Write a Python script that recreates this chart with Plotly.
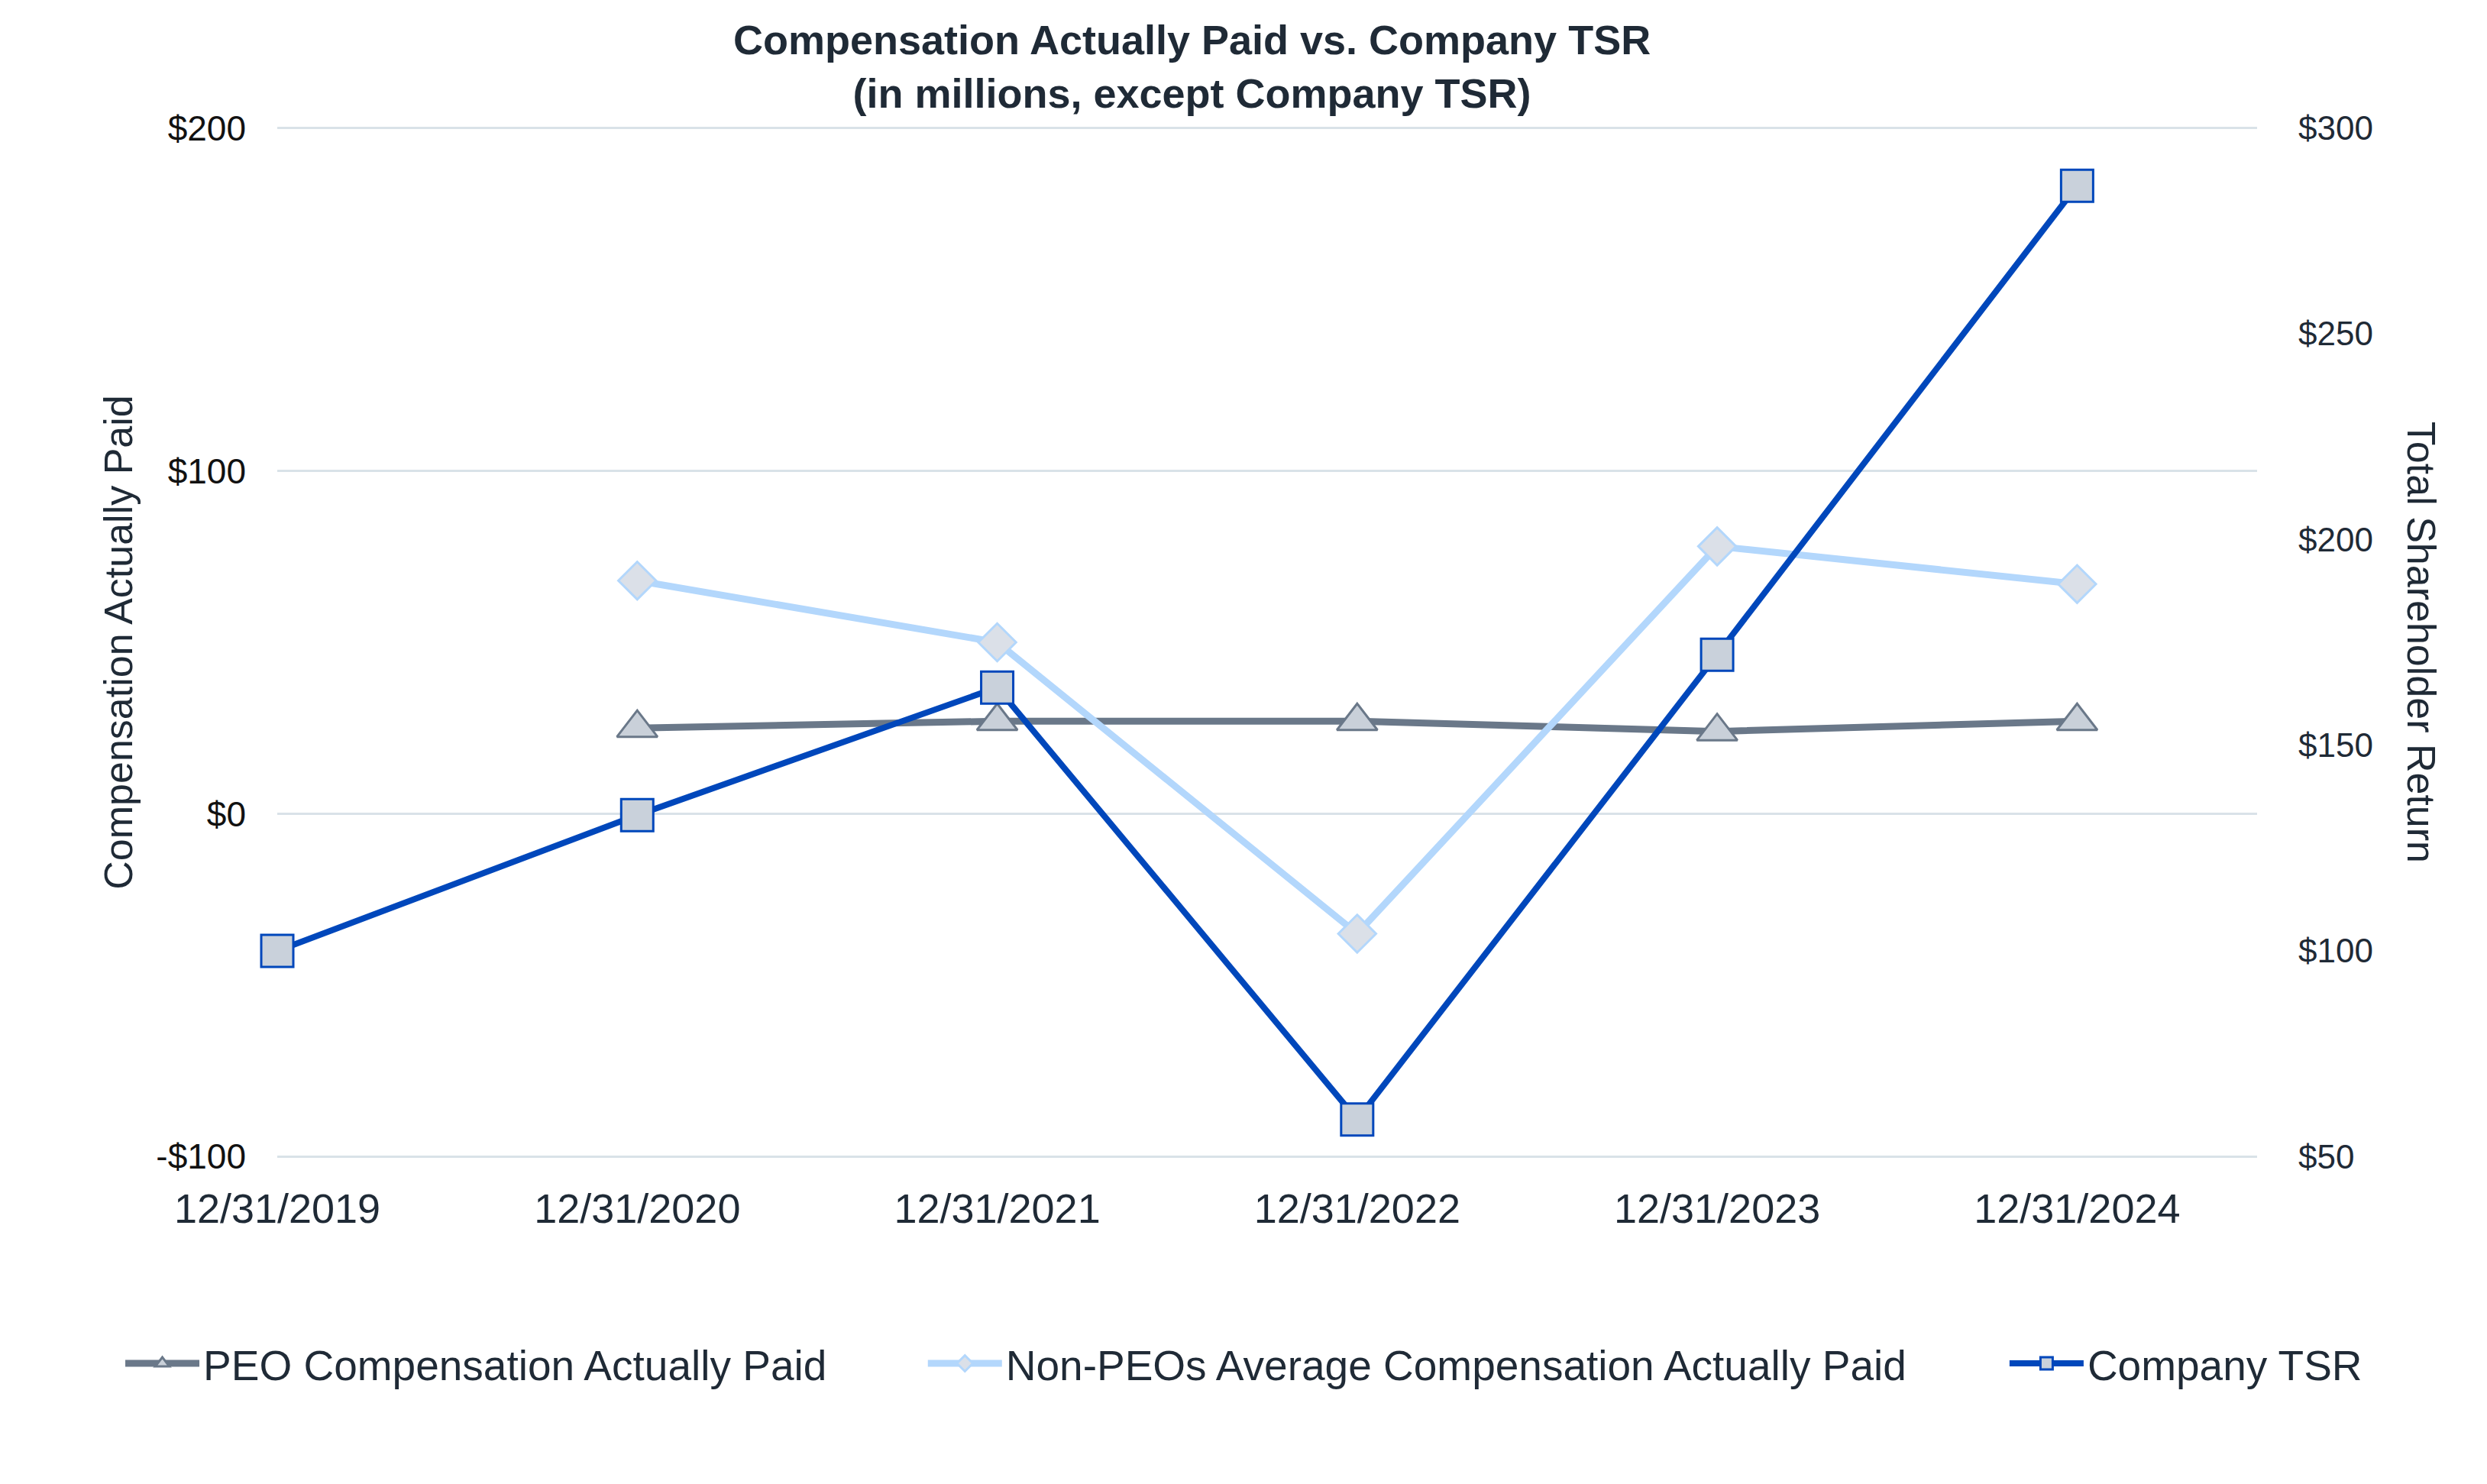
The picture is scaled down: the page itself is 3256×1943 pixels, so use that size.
import plotly.graph_objects as go

# fiscal year ends shown on the x axis
years = ["12/31/2019", "12/31/2020", "12/31/2021", "12/31/2022", "12/31/2023", "12/31/2024"]

# compensation actually paid, in millions
peo_cap = [None, 25, 27, 27, 24, 27]
non_peo_cap = [None, 68, 50, -35, 78, 67]

# cumulative company TSR (value of $100 invested)
company_tsr = [100, 133, 164, 59, 172, 286]

comp_ticks = [-100, 0, 100, 200]
comp_tick_labels = ["-$100", "$0", "$100", "$200"]
tsr_ticks = [50, 100, 150, 200, 250, 300]
tsr_tick_labels = ["$50", "$100", "$150", "$200", "$250", "$300"]

TEXT = "#1f2a36"
FONT = "Liberation Sans, Arial, sans-serif"

# page body adds an 8px margin, so the figure is a bit smaller than the window
W, H = 3248, 1935

fig = go.Figure()

fig.add_trace(go.Scatter(
    x=years, y=peo_cap,
    name="PEO Compensation Actually Paid",
    mode="lines+markers",
    line=dict(color="#6a7889", width=9),
    marker=dict(symbol="triangle-up", size=46, color="#c9d0d9",
                line=dict(color="#6a7889", width=3)),
    cliponaxis=False,
    legend="legend",
))

fig.add_trace(go.Scatter(
    x=years, y=non_peo_cap,
    name="Non-PEOs Average Compensation Actually Paid",
    mode="lines+markers",
    line=dict(color="#b3d7fc", width=9),
    marker=dict(symbol="diamond", size=38, color="#dbe0e8",
                line=dict(color="#b3d7fc", width=3)),
    cliponaxis=False,
    legend="legend2",
))

fig.add_trace(go.Scatter(
    x=years, y=company_tsr,
    name="Company TSR",
    mode="lines+markers",
    yaxis="y2",
    line=dict(color="#0047bb", width=8),
    marker=dict(symbol="square", size=42, color="#c9d1db",
                line=dict(color="#0047bb", width=3)),
    cliponaxis=False,
    legend="legend3",
))

legend_style = dict(
    orientation="h",
    xref="container", yref="container",
    xanchor="left",
    y=0.0815, yanchor="middle",
    font=dict(size=55, color=TEXT),
    itemwidth=97,
    bgcolor="rgba(0,0,0,0)",
)

fig.update_layout(
    width=W,
    height=H,
    margin=dict(l=355, r=301, t=158, b=427),
    paper_bgcolor="white",
    plot_bgcolor="white",
    font=dict(family=FONT, color=TEXT),
    title=dict(
        text="<b>Compensation Actually Paid vs. Company TSR<br>(in millions, except Company TSR)</b>",
        x=0.478, xanchor="center",
        y=0.9676, yanchor="top",
        font=dict(size=54, color=TEXT),
    ),
    xaxis=dict(
        type="category",
        range=[0, 5.5],
        showgrid=False,
        showline=False,
        zeroline=False,
        ticks="",
        tickfont=dict(size=54, color=TEXT),
        ticklabelstandoff=30,
        automargin=False,
    ),
    yaxis=dict(
        range=[-100.4, 200.4],
        tickvals=comp_ticks,
        ticktext=comp_tick_labels,
        showgrid=True,
        gridcolor="#d9e2e8",
        gridwidth=3,
        zeroline=False,
        showline=False,
        ticks="",
        tickfont=dict(size=46, color="#111111"),
        ticklabelstandoff=40,
        title=dict(text="Compensation Actually Paid", font=dict(size=52, color=TEXT), standoff=14),
        automargin=False,
    ),
    yaxis2=dict(
        range=[49.667, 300.333],
        tickvals=tsr_ticks,
        ticktext=tsr_tick_labels,
        overlaying="y",
        side="right",
        showgrid=False,
        zeroline=False,
        showline=False,
        ticks="",
        tickfont=dict(size=44, color=TEXT),
        ticklabelstandoff=53,
        automargin=False,
    ),
    annotations=[dict(
        text="Total Shareholder Return",
        xref="paper", yref="paper",
        x=1.083, y=0.5,
        xanchor="center", yanchor="middle",
        textangle=90,
        showarrow=False,
        font=dict(size=52, color=TEXT),
    )],
    showlegend=True,
    legend=dict(legend_style, x=0.0465),
    legend2=dict(legend_style, x=0.370),
    legend3=dict(legend_style, x=0.806),
)

fig.write_html("out.html")
